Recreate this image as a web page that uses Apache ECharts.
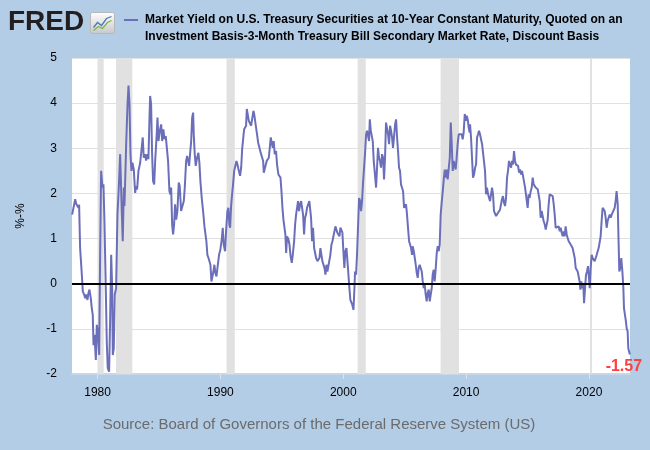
<!DOCTYPE html>
<html><head><meta charset="utf-8">
<script src="https://cdn.jsdelivr.net/npm/echarts@6/dist/echarts.min.js"></script>
<style>html,body{margin:0;padding:0;background:#b3cde7;}#c{width:650px;height:450px;}</style>
</head><body><div id="c"></div>
<script>
// Decimal-year dates and spread values (percentage points)
const dates = [
1977.93,1978.04,1978.18,1978.26,1978.37,1978.45,1978.50,1978.58,1978.72,1978.80,1978.91,1978.99,1979.07,1979.18,1979.26,1979.34,1979.45,1979.53,1979.61,1979.67,1979.75,1979.86,1979.94,1980.02,1980.13,1980.21,1980.29,1980.40,1980.48,1980.56,1980.67,1980.75,1980.83,1980.94,1981.02,1981.11,1981.19,1981.24,1981.32,1981.40,1981.51,1981.62,1981.73,1981.84,1981.92,1981.97,1982.05,1982.14,1982.19,1982.24,1982.33,1982.44,1982.52,1982.60,1982.68,1982.76,1982.84,1982.95,1983.06,1983.14,1983.22,1983.33,1983.47,1983.55,1983.68,1983.76,1983.87,1983.95,1984.06,1984.14,1984.23,
1984.28,1984.36,1984.44,1984.52,1984.61,1984.69,1984.80,1984.88,1984.96,1985.07,1985.18,1985.26,1985.36,1985.45,1985.55,1985.64,1985.74,1985.85,1985.93,1985.99,1986.07,1986.15,1986.23,1986.31,1986.40,1986.50,1986.61,1986.69,1986.80,1986.91,1987.02,1987.10,1987.21,1987.29,1987.37,1987.45,1987.53,1987.62,1987.70,1987.78,1987.83,1987.91,1987.99,1988.10,1988.21,1988.29,1988.38,1988.48,1988.59,1988.70,1988.78,1988.86,1988.94,1989.03,1989.11,1989.19,1989.27,1989.35,1989.43,1989.51,1989.59,1989.68,1989.79,1989.89,1990.00,1990.11,1990.19,1990.27,1990.38,1990.46,1990.57,1990.65,1990.73,
1990.79,1990.87,1990.95,1991.03,1991.12,1991.20,1991.31,1991.39,1991.50,1991.60,1991.69,1991.77,1991.88,1991.93,1992.01,1992.09,1992.15,1992.23,1992.31,1992.42,1992.50,1992.58,1992.69,1992.77,1992.88,1992.96,1993.07,1993.15,1993.23,1993.31,1993.39,1993.48,1993.53,1993.61,1993.69,1993.77,1993.85,1993.94,1994.02,1994.10,1994.18,1994.26,1994.34,1994.42,1994.53,1994.61,1994.72,1994.80,1994.89,1994.97,1995.05,1995.13,1995.21,1995.29,1995.35,1995.43,1995.54,1995.62,1995.70,1995.81,1995.89,1996.00,1996.08,1996.16,1996.24,1996.32,1996.40,1996.49,1996.57,1996.65,1996.73,1996.81,1996.89,1996.97,1997.05,1997.16,1997.24,
1997.30,1997.38,1997.46,1997.54,1997.63,1997.71,1997.79,1997.90,1997.98,1998.06,1998.14,1998.22,1998.30,1998.38,1998.47,1998.55,1998.63,1998.71,1998.79,1998.87,1998.95,1999.04,1999.12,1999.20,1999.28,1999.36,1999.44,1999.52,1999.61,1999.69,1999.77,1999.85,1999.93,2000.01,2000.09,2000.17,2000.26,2000.34,2000.42,2000.50,2000.58,2000.66,2000.74,2000.83,2000.91,2000.96,2001.04,2001.12,2001.21,2001.29,2001.37,2001.45,2001.53,2001.61,2001.69,2001.77,2001.86,2001.94,2002.02,2002.10,2002.16,2002.24,2002.32,2002.40,2002.48,2002.59,2002.67,2002.75,2002.83,2002.91,2002.99,2003.07,2003.16,2003.24,2003.32,2003.40,2003.48,2003.56,2003.65,2003.73,
2003.81,2003.89,2003.97,2004.05,2004.13,2004.22,2004.30,2004.38,2004.46,2004.54,2004.62,2004.70,2004.79,2004.87,2004.95,2005.03,2005.11,2005.19,2005.27,2005.36,2005.44,2005.52,2005.60,2005.65,2005.74,2005.82,2005.90,2005.98,2006.06,2006.14,2006.22,2006.30,2006.39,2006.47,2006.55,2006.63,2006.71,2006.79,2006.87,2006.96,2007.04,2007.12,2007.20,2007.28,2007.36,2007.44,2007.53,2007.61,2007.69,2007.77,2007.85,2007.93,2008.01,2008.10,2008.18,2008.26,2008.34,2008.42,2008.50,2008.58,2008.67,2008.75,2008.83,2008.91,2008.99,2009.07,2009.15,2009.23,2009.31,2009.40,2009.48,2009.56,2009.64,2009.72,2009.80,2009.89,2009.97,2010.05,2010.13,2010.21,2010.29,
2010.32,2010.40,2010.48,2010.56,2010.65,2010.73,2010.81,2010.89,2010.97,2011.05,2011.13,2011.21,2011.30,2011.38,2011.46,2011.54,2011.62,2011.70,2011.79,2011.87,2011.95,2012.03,2012.11,2012.19,2012.27,2012.35,2012.44,2012.52,2012.60,2012.68,2012.76,2012.84,2012.92,2013.00,2013.09,2013.17,2013.25,2013.33,2013.41,2013.49,2013.57,2013.66,2013.74,2013.82,2013.90,2013.98,2014.06,2014.14,2014.23,2014.31,2014.39,2014.47,2014.55,2014.63,2014.71,2014.80,2014.88,2014.96,2015.01,2015.09,2015.17,2015.26,2015.34,2015.42,2015.50,2015.58,2015.66,2015.75,2015.83,2015.91,2015.99,2016.07,2016.15,2016.23,2016.31,2016.40,2016.48,2016.56,2016.64,2016.72,2016.80,
2016.87,2016.94,2017.05,2017.13,2017.21,2017.29,2017.37,2017.45,2017.54,2017.62,2017.70,2017.78,2017.86,2017.94,2018.02,2018.10,2018.19,2018.27,2018.35,2018.43,2018.51,2018.59,2018.67,2018.76,2018.84,2018.92,2019.00,2019.08,2019.16,2019.24,2019.30,2019.38,2019.46,2019.54,2019.60,2019.68,2019.76,2019.84,2019.92,2020.00,2020.06,2020.14,2020.22,2020.30,2020.38,2020.46,2020.55,2020.63,2020.71,2020.79,2020.87,2020.95,2021.03,2021.11,2021.20,2021.28,2021.36,2021.44,2021.52,2021.60,2021.69,2021.77,2021.85,2021.93,2022.01,2022.09,2022.17,2022.25,2022.34,2022.39,2022.47,2022.55,2022.63,2022.72,2022.80,2022.85,2022.93,2023.01,2023.07,2023.15,2023.20,2023.33
];
const values = [
1.53,1.68,1.87,1.77,1.79,1.68,1.75,0.79,0.20,-0.17,-0.24,-0.32,-0.24,-0.36,-0.21,-0.13,-0.32,-0.54,-0.69,-1.36,-1.13,-1.69,-0.91,-1.06,-1.58,0.64,2.50,2.13,2.20,1.39,-0.10,-1.28,-1.87,-1.95,-0.84,0.64,-0.10,-1.58,-1.43,-0.24,-0.10,1.53,2.13,2.87,2.90,1.61,0.94,2.13,1.72,2.20,3.09,3.98,4.39,3.98,2.87,2.50,2.68,2.53,2.01,2.16,2.09,2.50,2.68,2.71,3.24,2.79,2.87,2.73,2.87,2.76,3.70,
4.16,3.98,2.87,2.27,2.20,2.72,3.24,3.68,3.16,3.39,3.53,3.16,3.42,3.20,3.27,3.24,2.72,2.05,1.98,2.13,1.31,1.09,1.31,1.76,1.42,1.61,2.24,2.16,1.61,1.64,1.83,2.13,2.72,2.83,2.72,2.61,2.87,3.16,3.68,3.79,3.31,2.87,2.61,2.79,2.90,2.68,2.24,1.90,1.61,1.27,1.24,0.94,0.64,0.57,0.61,0.42,0.05,0.05,0.27,0.42,0.24,0.16,0.42,0.64,0.76,0.98,1.24,0.87,0.72,1.16,1.61,1.68,1.31,
1.24,1.72,1.98,2.20,2.50,2.53,2.72,2.64,2.50,2.39,2.57,2.98,2.94,3.42,3.39,3.50,3.87,3.90,3.61,3.57,3.50,3.64,3.83,3.72,3.50,3.35,3.13,3.15,3.09,2.87,2.87,2.72,2.46,2.42,2.50,2.72,2.76,2.79,2.79,3.24,3.27,3.01,3.16,2.87,2.94,2.64,2.42,2.42,2.35,2.05,1.68,1.42,1.46,1.09,0.68,1.05,0.98,0.87,0.64,0.46,0.64,0.94,1.31,1.53,1.68,1.83,1.61,1.76,1.83,1.83,1.53,1.09,1.46,1.53,1.68,1.72,1.83,
1.83,1.46,0.94,1.24,0.79,0.79,0.57,0.50,0.46,0.57,0.79,0.79,0.50,0.53,0.35,0.20,0.42,0.27,0.31,0.27,0.64,0.87,0.94,1.05,1.16,1.27,1.24,1.13,1.16,1.05,1.24,1.27,1.13,0.72,0.35,0.72,0.79,0.50,0.20,-0.10,-0.36,-0.39,-0.47,-0.58,-0.10,0.27,0.20,0.64,1.31,1.90,1.83,1.61,1.83,2.24,2.27,2.87,3.31,3.39,3.35,3.16,3.64,3.39,3.39,3.16,2.72,2.39,2.13,2.57,3.01,2.79,2.72,2.57,2.87,2.79,2.31,2.79,3.57,3.53,3.31,3.09,
3.50,3.39,3.24,3.01,2.98,3.53,3.64,3.24,2.94,2.57,2.50,2.20,2.16,2.05,1.68,1.72,1.76,1.53,1.24,0.94,0.90,0.79,0.64,0.83,0.72,0.57,0.42,0.24,0.13,0.35,0.42,0.39,0.27,0.05,-0.10,-0.02,-0.24,-0.39,-0.21,-0.13,-0.39,-0.24,-0.10,0.20,0.31,0.05,0.35,0.68,0.83,0.72,0.87,1.53,1.79,2.05,2.31,2.53,2.35,2.53,2.31,2.35,2.79,3.57,3.09,2.50,2.72,2.76,2.53,2.79,3.09,3.31,3.35,3.35,3.31,3.20,3.35,3.76,3.61,3.72,3.64,3.46,3.35,
3.53,3.24,2.79,2.35,2.42,2.57,2.64,3.24,3.31,3.39,3.31,3.35,3.09,3.05,3.09,2.50,1.98,2.13,1.98,1.90,1.83,1.98,2.13,1.98,1.61,1.57,1.50,1.46,1.57,1.53,1.64,1.68,1.87,1.94,1.79,1.72,1.90,2.35,2.50,2.72,2.68,2.57,2.72,2.64,2.94,2.72,2.64,2.68,2.61,2.46,2.53,2.42,2.50,2.39,2.35,2.13,2.16,2.09,1.68,1.98,1.90,2.05,2.13,2.35,2.20,2.16,2.13,2.13,2.09,2.13,1.83,1.46,1.61,1.61,1.39,1.31,1.20,1.31,1.42,1.76,1.98,
1.95,1.98,1.94,1.76,1.53,1.24,1.27,1.20,1.27,1.16,1.24,1.13,1.05,1.16,1.05,1.27,1.09,1.01,0.94,0.98,0.87,0.90,0.79,0.83,0.57,0.35,0.31,0.27,0.16,0.05,-0.13,0.05,-0.10,-0.02,-0.43,-0.10,0.20,0.27,0.39,0.13,-0.10,0.35,0.64,0.57,0.53,0.50,0.57,0.64,0.72,0.79,0.83,1.05,1.39,1.68,1.70,1.61,1.46,1.24,1.39,1.46,1.53,1.46,1.53,1.50,1.53,1.68,1.83,2.05,1.76,1.16,0.27,0.35,0.57,0.27,-0.10,-0.54,-0.69,-0.84,-0.99,-1.06,-1.43,-1.57
];
const recessionStarts = [1980.00, 1981.50, 1990.50, 2001.17, 2007.92, 2020.08];
const recessionEnds   = [1980.50, 1982.83, 1991.17, 2001.83, 2009.42, 2020.25];
const xTickYears = [1980, 1990, 2000, 2010, 2020];
const titleLines = [
  'Market Yield on U.S. Treasury Securities at 10-Year Constant Maturity, Quoted on an',
  'Investment Basis-3-Month Treasury Bill Secondary Market Rate, Discount Basis'
];
const yAxisTitle = '%-%';
const sourceText = 'Source: Board of Governors of the Federal Reserve System (US)';

const LINE = '#6b6fba';
const NARROW = '"Liberation Sans Narrow","Arial Narrow","Liberation Sans",sans-serif';
const SANS = '"Liberation Sans",Arial,sans-serif';

const seriesData = dates.map((d, i) => [d, values[i]]);
const lastIdx = values.length - 1;

const chart = echarts.init(document.getElementById('c'), null, {renderer: 'canvas'});
chart.setOption({
  backgroundColor: '#b3cde7',
  animation: false,
  grid: {left: 72, right: 20, top: 58, bottom: 76, show: true, backgroundColor: '#ffffff', borderWidth: 0},
  xAxis: {
    type: 'value', min: 1977.92, max: 2023.34,
    splitLine: {show: false},
    axisLine: {show: true, onZero: false, lineStyle: {color: '#c6d7ea', width: 2}},
    axisTick: {show: true, customValues: xTickYears, length: 5, lineStyle: {color: '#d8e3ef'}},
    axisLabel: {customValues: xTickYears, formatter: v => String(Math.round(v)), color: '#000', fontSize: 12, fontFamily: SANS, margin: 13}
  },
  yAxis: {
    type: 'value', min: -2, max: 5, interval: 1,
    name: yAxisTitle, nameLocation: 'middle', nameGap: 45, nameRotate: 90,
    nameTextStyle: {color: '#000', fontSize: 12, fontFamily: SANS},
    axisLine: {show: false}, axisTick: {show: false},
    axisLabel: {color: '#000', fontSize: 12, fontFamily: SANS, margin: 15},
    splitLine: {show: true, lineStyle: {color: '#e1e1e1', width: 1}}
  },
  series: [
    {
      type: 'line', data: [], z: 1, silent: true,
      markArea: {
        silent: true,
        itemStyle: {color: '#e1e1e1'},
        data: recessionStarts.map((s, i) => [{xAxis: s}, {xAxis: recessionEnds[i]}])
      }
    },
    {
      type: 'line', data: seriesData, z: 3, showSymbol: false, smooth: false,
      lineStyle: {color: LINE, width: 2}, itemStyle: {color: LINE},
      markLine: {
        silent: true, symbol: 'none', label: {show: false},
        lineStyle: {color: '#000', width: 2, type: 'solid'},
        data: [{yAxis: 0}]
      },
      markPoint: {
        symbol: 'circle', symbolSize: 0, silent: true,
        data: [{coord: [dates[lastIdx], values[lastIdx]]}],
        label: {show: true, position: 'bottom', distance: 4, offset: [-6, 0],
          formatter: values[lastIdx].toFixed(2), color: '#ff4040', fontSize: 16, fontWeight: 'bold', fontFamily: NARROW}
      }
    }
  ],
  graphic: [
    {type: 'text', left: 8, top: 8, style: {text: 'FRED', fontSize: 28, fontWeight: 'bold', fontFamily: SANS, fill: '#231f20'}},
    {type: 'group', left: 90, top: 12, children: [
      {type: 'rect', shape: {x: 0, y: 0, width: 24, height: 21, r: 2},
        style: {fill: new echarts.graphic.LinearGradient(0, 0, 0, 1, [{offset: 0, color: '#ffffff'}, {offset: 1, color: '#c8c8c8'}]), stroke: '#b8b8b8', lineWidth: 1}},
      {type: 'polyline', shape: {points: [[3, 15], [7, 10], [11, 13], [16, 6], [21, 4]]}, style: {stroke: '#4a7ab5', lineWidth: 1.3, fill: null}},
      {type: 'polyline', shape: {points: [[3, 18], [8, 14], [12, 16], [17, 10], [21, 8]]}, style: {stroke: '#7ab648', lineWidth: 1.3, fill: null}}
    ]},
    {type: 'line', shape: {x1: 124, y1: 20, x2: 138, y2: 20}, style: {stroke: LINE, lineWidth: 2}},
    {type: 'text', left: 145, top: 11, style: {text: titleLines.join('\n'), fontSize: 12, fontWeight: 'bold', fontFamily: NARROW, lineHeight: 17, fill: '#000'}},
    {type: 'text', x: 319, y: 425, style: {text: sourceText, align: 'center', verticalAlign: 'middle', fontSize: 15, fontFamily: SANS, fill: '#6b6b6b'}}
  ]
});
</script></body></html>
